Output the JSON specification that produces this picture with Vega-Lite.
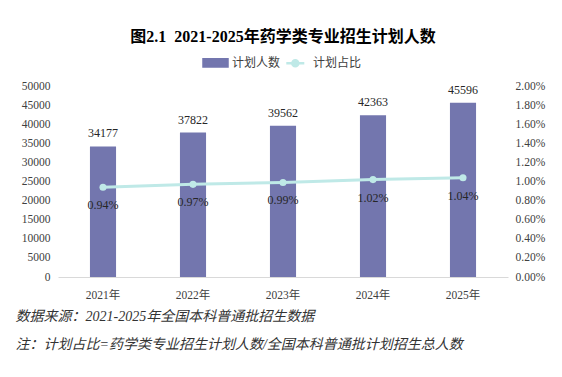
{
  "$schema": "https://vega.github.io/schema/vega-lite/v6.json",
  "width": 450,
  "height": 191,
  "autosize": {"type": "none"},
  "padding": {"left": 58, "top": 86, "right": 54, "bottom": 100},
  "background": "white",
  "title": {
    "text": "图2.1\u00a0\u00a02021-2025年药学类专业招生计划人数",
    "fontSize": 16,
    "fontWeight": "bold",
    "font": "Liberation Serif, Noto Sans CJK SC",
    "color": "#000000",
    "anchor": "middle",
    "offset": 4
  },
  "config": {
    "view": {"stroke": null},
    "axis": {"grid": false, "labelFont": "Liberation Serif, Noto Sans CJK SC", "labelFontSize": 11, "labelColor": "#404040", "ticks": false, "labelOverlap": false}
  },
  "data": {
    "values": [
      {"year": "2021年", "count": 34177, "ratio": 0.0094},
      {"year": "2022年", "count": 37822, "ratio": 0.0097},
      {"year": "2023年", "count": 39562, "ratio": 0.0099},
      {"year": "2024年", "count": 42363, "ratio": 0.0102},
      {"year": "2025年", "count": 45596, "ratio": 0.0104}
    ]
  },
  "encoding": {
    "x": {
      "field": "year",
      "type": "nominal",
      "sort": null,
      "scale": {"paddingInner": 0.71, "paddingOuter": 0.355},
      "axis": {
        "title": ["数据来源：2021-2025年全国本科普通批招生数据", "注：计划占比=药学类专业招生计划人数/全国本科普通批计划招生总人数"],
        "labelAngle": 0,
        "labelFont": "Liberation Serif, Noto Sans CJK SC",
        "labelFontSize": 11.5,
        "labelOverlap": false,
        "domainColor": "#d9d9d9",
        "labelPadding": 12,
        "titleFont": "Liberation Serif, Noto Sans CJK SC",
        "titleFontSize": 14,
        "titleFontStyle": "italic",
        "titleFontWeight": "normal",
        "titleColor": "#333333",
        "titleAnchor": "start",
        "titleAlign": "left",
        "titleBaseline": "alphabetic",
        "titleX": -43,
        "titleY": 43,
        "titleLineHeight": 28
      }
    }
  },
  "layer": [
    {
      "encoding": {
        "y": {
          "field": "count",
          "type": "quantitative",
          "scale": {"domain": [0, 50000], "nice": false},
          "axis": {
            "title": null,
            "domain": false,
            "values": [0, 5000, 10000, 15000, 20000, 25000, 30000, 35000, 40000, 45000, 50000],
            "format": "d",
            "labelFont": "Liberation Serif",
            "labelFontSize": 11.5,
            "labelOverlap": false,
            "labelPadding": 8
          }
        }
      },
      "layer": [
        {
          "mark": {"type": "bar"},
          "encoding": {
            "color": {
              "datum": "计划人数",
              "scale": {"domain": ["计划人数", "计划占比"], "range": ["#7376AE", "#BFE9E7"]},
              "legend": {
                "orient": "none",
                "legendX": 144,
                "legendY": -37,
                "direction": "horizontal",
                "title": null,
                "symbolSize": 576,
                "labelFont": "Liberation Serif, Noto Sans CJK SC",
                "labelFontSize": 12,
                "labelColor": "#404040",
                "labelOffset": 3,
                "columnPadding": 0,
                "encode": {
                  "symbols": {
                    "update": {
                      "shape": {"signal": "datum.value === '计划人数' ? 'M-1,-0.3H1V0.3H-1Z' : 'M-0.85,0H0.65M0.15,0A0.25,0.25,0,1,1,-0.35,0A0.25,0.25,0,1,1,0.15,0Z'"},
                      "fill": {"signal": "datum.value === '计划人数' ? '#7376AE' : '#BFE9E7'"},
                      "stroke": {"signal": "datum.value === '计划人数' ? 'transparent' : '#BFE9E7'"},
                      "strokeWidth": {"value": 2.5},
                      "opacity": {"value": 1},
                      "fillOpacity": {"value": 1}
                    }
                  }
                }
              }
            }
          }
        },
        {
          "mark": {"type": "text", "baseline": "bottom", "dy": -6, "font": "Liberation Serif", "fontSize": 12, "color": "#262626"},
          "encoding": {
            "text": {"field": "count", "format": "d"}
          }
        }
      ]
    },
    {
      "encoding": {
        "y": {
          "field": "ratio",
          "type": "quantitative",
          "scale": {"domain": [0, 0.02], "nice": false},
          "axis": {
            "orient": "right",
            "title": null,
            "domain": false,
            "values": [0, 0.002, 0.004, 0.006, 0.008, 0.01, 0.012, 0.014, 0.016, 0.018, 0.02],
            "format": ".2%",
            "labelFont": "Liberation Serif",
            "labelFontSize": 11.5,
            "labelOverlap": false,
            "labelPadding": 7
          }
        }
      },
      "layer": [
        {
          "mark": {"type": "line", "strokeWidth": 3, "point": {"filled": true, "size": 50}},
          "encoding": {
            "color": {"datum": "计划占比"}
          }
        },
        {
          "mark": {"type": "text", "baseline": "top", "dy": 13, "font": "Liberation Serif", "fontSize": 12, "color": "#262626"},
          "encoding": {
            "text": {"field": "ratio", "format": ".2%"}
          }
        }
      ]
    }
  ],
  "resolve": {"scale": {"y": "independent"}}
}
